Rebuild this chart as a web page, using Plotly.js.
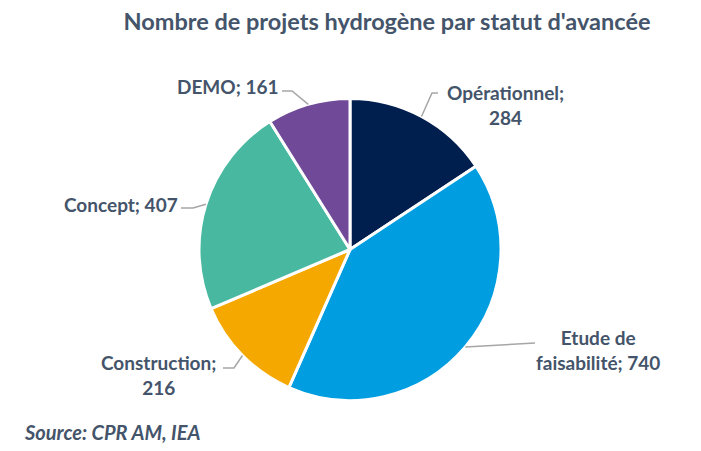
<!DOCTYPE html>
<html>
<head>
<meta charset="utf-8">
<script src="https://cdn.plot.ly/plotly-3.0.1.min.js"></script>
<style>html,body{margin:0;padding:0;background:#fff;}#chart{width:701px;height:451px;}</style>
</head>
<body>
<div id="chart"></div>
<script>
// ---- data ----
const categories = ["Opérationnel", "Etude de faisabilité", "Construction", "Concept", "DEMO"];
const values = [284, 740, 216, 407, 161];
const labelTexts = ["Opérationnel;<br>284", "Etude de<br>faisabilité; 740", "Construction;<br>216", "Concept; 407", "DEMO; 161"];
const colors = ["#001E4E", "#009EE0", "#F5A800", "#48B8A0", "#704A98"];
const titleText = "Nombre de projets hydrogène par statut d'avancée";
const sourceText = "Source: CPR AM, IEA";

// ---- layout helpers ----
const W = 701, H = 451;
const cx = 350, cy = 249.5, R = 151;
const px = x => x / W;
const py = y => 1 - y / H;
const txtColor = "#44546A";
const fontFam = "Lato, 'Open Sans', sans-serif";

// label placement (pixel positions, styling only)
const labelPos = [
  {x: 505, y: 105, elbow: [432, 93], end: [438, 93]},
  {x: 598, y: 350, elbow: [535, 343], end: [535, 343]},
  {x: 158, y: 375, elbow: [234, 368], end: [223, 368]},
  {x: 121, y: 204, elbow: [193, 208], end: [181, 208]},
  {x: 228, y: 86, elbow: [292, 91], end: [282, 91]}
];

const total = values.reduce((a, b) => a + b, 0);
let cum = 0;
const shapes = [], annotations = [];
values.forEach((v, i) => {
  const mid = (cum + v / 2) / total * 2 * Math.PI;
  cum += v;
  const ax = cx + R * Math.sin(mid), ay = cy - R * Math.cos(mid);
  const p = labelPos[i];
  shapes.push({
    type: "path", xref: "paper", yref: "paper",
    path: `M ${px(ax)} ${py(ay)} L ${px(p.elbow[0])} ${py(p.elbow[1])} L ${px(p.end[0])} ${py(p.end[1])}`,
    line: {color: "#A6A6A6", width: 1.5}
  });
  annotations.push({
    xref: "paper", yref: "paper", x: px(p.x), y: py(p.y),
    xanchor: "center", yanchor: "middle", align: "center",
    text: "<b>" + labelTexts[i] + "</b>", showarrow: false,
    font: {family: fontFam, size: 19, color: txtColor}
  });
});

annotations.push({
  xref: "paper", yref: "paper", x: px(22), y: py(432),
  xanchor: "left", yanchor: "middle",
  text: "<b><i>" + sourceText + "</i></b>", showarrow: false,
  font: {family: fontFam, size: 20, color: txtColor}
});

const trace = {
  type: "pie",
  labels: categories,
  values: values,
  sort: false,
  direction: "clockwise",
  rotation: 0,
  textinfo: "none",
  hoverinfo: "label+value",
  marker: {colors: colors, line: {color: "#FFFFFF", width: 3}},
  domain: {x: [px(cx - R), px(cx + R)], y: [py(cy + R), py(cy - R)]},
  showlegend: false
};

const layout = {
  width: W, height: H,
  margin: {l: 0, r: 0, t: 0, b: 0},
  paper_bgcolor: "#FFFFFF",
  plot_bgcolor: "#FFFFFF",
  showlegend: false,
  title: {
    text: "<b>" + titleText + "</b>",
    x: px(387), xanchor: "center", xref: "paper",
    y: py(22), yanchor: "middle", yref: "paper",
    font: {family: fontFam, size: 23.5, color: txtColor}
  },
  shapes: shapes,
  annotations: annotations
};

Plotly.newPlot("chart", [trace], layout, {displayModeBar: false, staticPlot: true});
</script>
</body>
</html>
